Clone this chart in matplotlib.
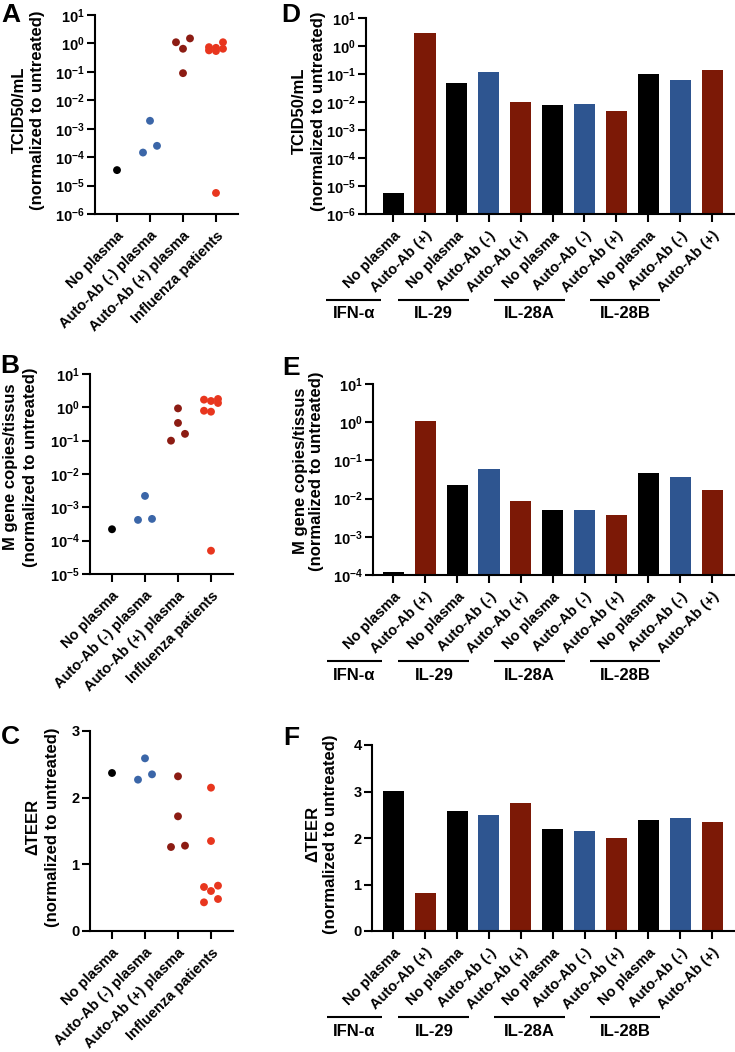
import numpy as np
import matplotlib
matplotlib.use('Agg')
import matplotlib.pyplot as plt
from matplotlib.ticker import FixedLocator, FuncFormatter, NullLocator
import matplotlib.transforms as mtransforms

plt.rcParams['font.family'] = ['Liberation Sans', 'DejaVu Sans']
plt.rcParams['font.weight'] = 'bold'
plt.rcParams['mathtext.fontset'] = 'custom'
plt.rcParams['mathtext.rm'] = 'Liberation Sans:bold'
plt.rcParams['mathtext.bf'] = 'Liberation Sans:bold'
plt.rcParams['mathtext.it'] = 'Liberation Sans:bold'

W, H = 735, 1052

# ---------------- data ----------------
scatter_groups = ['No plasma', 'Auto-Ab (-) plasma', 'Auto-Ab (+) plasma', 'Influenza patients']
scatter_colors = ['#000000', '#3b66a8', '#8c1c13', '#e8361e']

A_no_plasma = [3.5e-5]
A_ab_neg = [1.9e-3, 2.5e-4, 1.45e-4]
A_ab_pos = [1.5, 1.1, 0.65, 0.09]
A_flu = [1.1, 0.74, 0.7, 0.65, 0.57, 0.54, 5.5e-6]

B_no_plasma = [2.2e-4]
B_ab_neg = [2.2e-3, 4.5e-4, 4.2e-4]
B_ab_pos = [0.93, 0.34, 0.16, 0.10]
B_flu = [1.78, 1.7, 1.55, 1.35, 0.79, 0.74, 5.0e-5]

C_no_plasma = [2.37]
C_ab_neg = [2.59, 2.35, 2.27]
C_ab_pos = [2.32, 1.72, 1.28, 1.26]
C_flu = [2.15, 1.35, 0.68, 0.66, 0.60, 0.48, 0.43]

bar_labels = ['No plasma', 'Auto-Ab (+)',
              'No plasma', 'Auto-Ab (-)', 'Auto-Ab (+)',
              'No plasma', 'Auto-Ab (-)', 'Auto-Ab (+)',
              'No plasma', 'Auto-Ab (-)', 'Auto-Ab (+)']
cytokine_groups = ['IFN-\u03b1', 'IL-29', 'IL-28A', 'IL-28B']
cytokine_sizes = [2, 3, 3, 3]
bar_color_map = {'No plasma': '#000000', 'Auto-Ab (-)': '#2e5590', 'Auto-Ab (+)': '#7c1906'}

D_values = [5.5e-6, 2.8, 0.047, 0.12, 0.010, 0.008, 0.0085, 0.0049, 0.098, 0.063, 0.135]
E_values = [1.2e-4, 1.1, 0.023, 0.058, 0.0089, 0.0051, 0.0049, 0.0038, 0.047, 0.036, 0.017]
F_values = [3.02, 0.81, 2.59, 2.50, 2.75, 2.19, 2.14, 2.00, 2.38, 2.44, 2.34]

ylabel_TCID = ['TCID50/mL', '(normalized to untreated)']
ylabel_M = ['M gene copies/tissus', '(normalized to untreated)']
ylabel_TEER = ['\u0394TEER', '(normalized to untreated)']

# ---------------- helpers ----------------
fig = plt.figure(figsize=(W / 100, H / 100), dpi=100)


def add_ax(left, right, top, bottom):
    return fig.add_axes([left / W, 1 - bottom / H, (right - left) / W, (bottom - top) / H])


def style(ax):
    for s in ('top', 'right'):
        ax.spines[s].set_visible(False)
    for s in ('left', 'bottom'):
        ax.spines[s].set_linewidth(1.5)
    ax.tick_params(axis='both', width=1.5, length=5.5, labelsize=10.5, pad=2)
    ax.tick_params(axis='x', pad=5)
    ax.yaxis.set_minor_locator(NullLocator())


def log_axis(ax, lo, hi):
    ax.set_yscale('log')
    ax.set_ylim(10.0 ** lo, 10.0 ** hi)
    ax.yaxis.set_major_locator(FixedLocator(10.0 ** np.arange(lo, hi + 1)))
    ax.yaxis.set_major_formatter(FuncFormatter(
        lambda v, _: r'$\mathbf{10^{%d}}$' % int(round(np.log10(v)))))
    ax.yaxis.set_minor_locator(NullLocator())


def swarm(ax, xc, values, h_px=7.0, min_gap=8.5):
    vals = np.asarray(values, float)
    pts = ax.transData.transform(np.column_stack([np.full(len(vals), xc), vals]))
    ys = pts[:, 1]
    order = np.argsort(-vals)
    offs = np.zeros(len(vals))
    pattern = [1, -1, 0]
    cluster = [order[0]]
    clusters = []
    for i in order[1:]:
        if abs(ys[cluster[-1]] - ys[i]) < min_gap:
            cluster.append(i)
        else:
            clusters.append(cluster)
            cluster = [i]
    clusters.append(cluster)
    for cl in clusters:
        if len(cl) == 1:
            continue
        for k, i in enumerate(cl):
            offs[i] = pattern[k % 3] * h_px
    px_per_unit = ax.transData.transform((1, 1))[0] - ax.transData.transform((0, 1))[0]
    return xc + offs / px_per_unit, vals


def scatter_panel(ax, groups_data):
    ax.set_xlim(-0.667, 3.667)
    for i, (vals, col) in enumerate(zip(groups_data, scatter_colors)):
        xs, ys = swarm(ax, i, vals)
        ax.scatter(xs, ys, s=32, color=col, edgecolors='none', zorder=3, clip_on=False)
    ax.set_xticks(range(len(scatter_groups)))
    ax.set_xticklabels(scatter_groups, rotation=45, ha='right', va='top',
                       rotation_mode='anchor', fontsize=10.5, fontweight='bold')


def bar_panel(ax, values, bottom, xleft):
    ax.set_xlim(xleft, 10.72)
    x = np.arange(len(values))
    cols = [bar_color_map[l] for l in bar_labels]
    ax.bar(x, np.asarray(values) - bottom, bottom=bottom, width=0.66, color=cols,
           edgecolor='none', zorder=2)
    ax.set_xticks(x)
    ax.set_xticklabels(bar_labels, rotation=45, ha='right', va='top',
                       rotation_mode='anchor', fontsize=10.5, fontweight='bold')
    # group annotations
    hpx = ax.get_position().height * H
    trans = mtransforms.blended_transform_factory(ax.transData, ax.transAxes)
    start = 0
    for name, n in zip(cytokine_groups, cytokine_sizes):
        idx = np.arange(start, start + n)
        c = idx.mean() - 1.73
        half = 0.25 * n + 0.36
        ax.plot([c - half, c + half], [-86 / hpx, -86 / hpx], color='black', lw=1.5,
                transform=trans, clip_on=False, solid_capstyle='butt')
        ax.text(c, -100 / hpx, name, transform=trans, ha='center', va='center',
                fontsize=12, fontweight='bold')
        start += n


def ylabel(x1, x2, yc, lines):
    for xc, t in zip((x1, x2), lines):
        fig.text(xc / W, 1 - yc / H, t, rotation=90, ha='center', va='center',
                 fontsize=12, fontweight='bold')


def letter(x, y, s):
    fig.text(x / W, 1 - y / H, s, ha='left', va='baseline', fontsize=19, fontweight='bold')


# ---------------- panel A ----------------
axA = add_ax(95, 238, 15, 214)
style(axA)
log_axis(axA, -6, 1)
scatter_panel(axA, [A_no_plasma, A_ab_neg, A_ab_pos, A_flu])

# ---------------- panel B ----------------
axB = add_ax(90, 233, 374, 574)
style(axB)
log_axis(axB, -5, 1)
scatter_panel(axB, [B_no_plasma, B_ab_neg, B_ab_pos, B_flu])

# ---------------- panel C ----------------
axC = add_ax(90, 233, 731, 931)
style(axC)
axC.set_ylim(0, 3)
axC.set_yticks([0, 1, 2, 3])
scatter_panel(axC, [C_no_plasma, C_ab_neg, C_ab_pos, C_flu])

# ---------------- panel D ----------------
axD = add_ax(366, 735, 18, 214)
style(axD)
log_axis(axD, -6, 1)
bar_panel(axD, D_values, 1e-6, -0.85)

# ---------------- panel E ----------------
axE = add_ax(373, 735, 384, 575)
style(axE)
log_axis(axE, -4, 1)
bar_panel(axE, E_values, 1e-4, -0.64)

# ---------------- panel F ----------------
axF = add_ax(372, 735, 745, 931)
style(axF)
axF.set_ylim(0, 4)
axF.set_yticks([0, 1, 2, 3, 4])
bar_panel(axF, F_values, 0.0, -0.67)

for ax in (axC, axF):
    for t in ax.get_yticklabels():
        t.set_fontweight('bold')

ylabel(19, 38, 110, ylabel_TCID)
ylabel(11, 31, 467, ylabel_M)
ylabel(33, 53, 827, ylabel_TEER)
ylabel(299, 318, 111, ylabel_TCID)
ylabel(301, 316, 471, ylabel_M)
ylabel(313, 331, 834, ylabel_TEER)

letter(1, 22, 'A')
letter(0, 373, 'B')
letter(1, 744, 'C')
letter(281, 22, 'D')
letter(282, 375, 'E')
letter(283, 745, 'F')

fig.savefig('out.png', dpi=100)
